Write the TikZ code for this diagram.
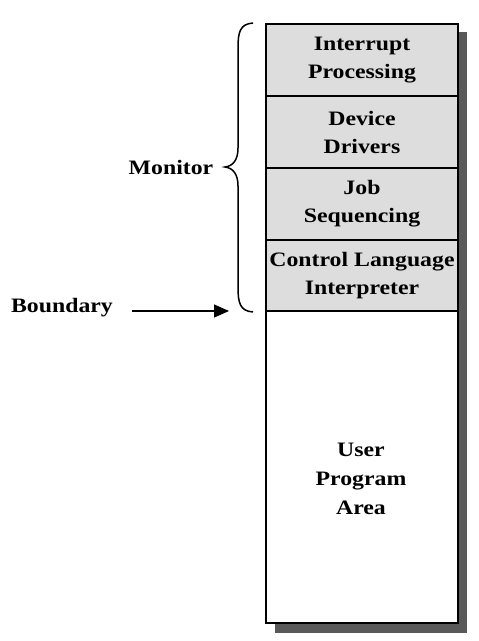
\documentclass[tikz,border=0pt]{standalone}
\usepackage{fontspec}
\setmainfont{Liberation Serif}[FakeStretch=1.16]
\usetikzlibrary{arrows.meta}
\definecolor{layergray}{HTML}{DDDDDD}
\definecolor{shadowgray}{HTML}{595959}
\begin{document}
\begin{tikzpicture}[x=1pt,y=-1pt,
  txt/.style={font=\bfseries\fontsize{20.5}{28}\selectfont, align=center, inner sep=0pt},
  layer/.style={txt, draw, line width=2pt, fill=layergray, minimum width=192pt, minimum height=72pt, anchor=north west},
  userlayer/.style={txt, draw, line width=2pt, fill=white, minimum width=192pt, minimum height=312pt, anchor=north west}]
\useasboundingbox (0,0) rectangle (479,641);
\fill[shadowgray] (275,32) rectangle (467,633);
\node[userlayer] (user) at (265,310) {};
\node[txt] (usertext) at (361,479) {User\\[1pt]Program\\[1pt]Area};
\node[layer] (intr) at (265,23) {Interrupt\\Processing};
\node[layer] (dev) at (265,95) {Device\\Drivers};
\node[layer] (job) at (265,167) {Job\\Sequencing};
\node[layer, minimum height=71pt] (cli) at (265,239) {Control Language\\Interpreter};
\node[txt] (monitor) at (171,167) {Monitor};
\node[txt] (boundary) at (62,308) {Boundary};
\coordinate (arrowtail) at (132,311);
\coordinate (arrowtip) at (229,311);
\draw[line width=1.5pt, -{Triangle[length=15pt,width=13pt]}] (arrowtail) -- (arrowtip);
\draw[line width=1.5pt] (253,23) .. controls (240,24) and (238,32) .. (238,48)
  -- (238,148) .. controls (238,160) and (233,166) .. (225,167)
  .. controls (233,168) and (238,174) .. (238,186)
  -- (238,287) .. controls (238,303) and (240,311) .. (253,312);
\end{tikzpicture}
\end{document}
